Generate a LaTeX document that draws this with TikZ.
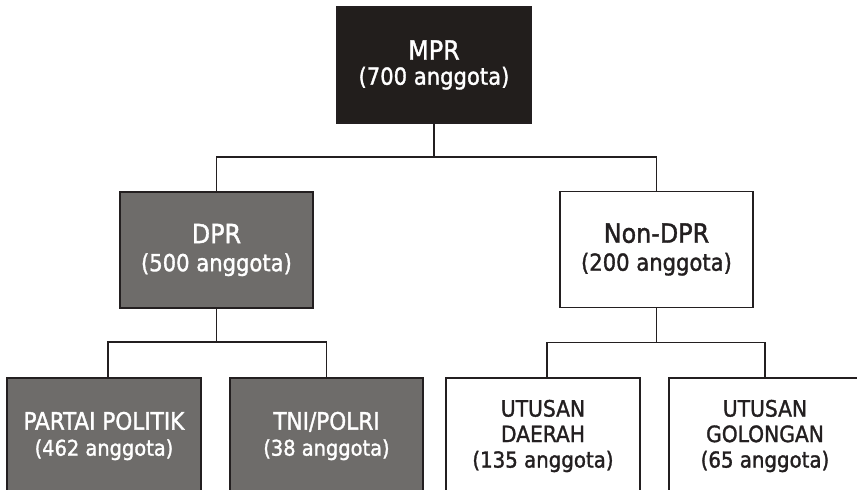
\documentclass[tikz,border=0pt]{standalone}
\usepackage{fontspec}
\setmainfont{DejaVu Sans Condensed}[FakeBold=1.4]
\definecolor{ink}{HTML}{231F20}
\definecolor{boxblack}{HTML}{221E1C}
\definecolor{boxgray}{HTML}{6E6C6A}
\tikzset{
  orgbox/.style={draw=ink, line width=1.8pt, rectangle, inner sep=0pt, align=center,
     minimum width=#1, minimum height=116pt},
  darkbox/.style={orgbox=194pt, fill=boxblack, text=white},
  graybox/.style={orgbox=193pt, fill=boxgray, text=white},
  whitebox/.style={orgbox=193pt, fill=white, text=ink},
  conn/.style={draw=ink, line width=1.8pt},
}
\newcommand{\ttl}[2]{{\fontsize{#1}{25}\selectfont #2}}
\begin{document}
\begin{tikzpicture}[x=1pt,y=-1pt]
\useasboundingbox (0,0) rectangle (857,490);
\clip (0,0) rectangle (857,490);
\fill[white] (0,0) rectangle (857,490);

\node[darkbox, font=\fontsize{23.5}{25}\selectfont] (mpr) at (434,65) {\ttl{26.5}{MPR}\\(700 anggota)};
\node[graybox, font=\fontsize{23.5}{28}\selectfont] (dpr) at (216.5,250) {\ttl{26.5}{DPR}\\(500 anggota)};
\node[whitebox, font=\fontsize{23.5}{28}\selectfont] (ndpr) at (656.5,249.5) {\ttl{26.5}{Non-DPR}\\(200 anggota)};

\node[graybox, orgbox=194pt, font=\fontsize{21.6}{26}\selectfont] (pp) at (104,436) {\ttl{24}{PARTAI POLITIK}\\(462 anggota)};
\node[graybox, font=\fontsize{21.6}{26}\selectfont] (tni) at (326.5,436) {\ttl{24}{TNI/POLRI}\\(38 anggota)};
\node[whitebox, orgbox=194pt, font=\fontsize{22}{25.5}\selectfont] (ud) at (543,436) {\ttl{22.5}{UTUSAN}\\\ttl{22.5}{DAERAH}\\(135 anggota)};
\node[whitebox, orgbox=192pt, font=\fontsize{22}{25.5}\selectfont] (ug) at (765,436) {\ttl{22.5}{UTUSAN}\\\ttl{22.5}{GOLONGAN}\\(65 anggota)};

\draw[conn] (mpr.south) -- ++(0,33) coordinate (j0) -| (dpr.north);
\draw[conn] (j0) -| (ndpr.north);
\draw[conn] (dpr.south) -- ++(0,33) coordinate (j1) -| ([xshift=4pt]pp.north);
\draw[conn] (j1) -| (tni.north);
\draw[conn] (ndpr.south) -- ++(0,34) coordinate (j2) -| ([xshift=4pt]ud.north);
\draw[conn] (j2) -| (ug.north);
\end{tikzpicture}
\end{document}
